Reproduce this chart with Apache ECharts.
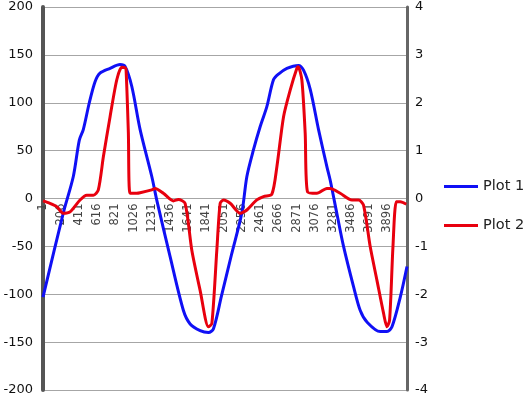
<!DOCTYPE html>
<html><head><meta charset="utf-8">
<script src="https://cdn.jsdelivr.net/npm/echarts@6/dist/echarts.min.js"></script>
<style>html,body{margin:0;padding:0;background:#fff}#c{width:528px;height:400px}</style>
</head><body><div id="c"></div>
<script>
const xTickLabels = [1,206,411,616,821,1026,1231,1436,1641,1841,2051,2256,2461,2666,2871,3076,3281,3486,3691,3896];
const leftTicks = [-200,-150,-100,-50,0,50,100,150,200];
const rightTicks = [-4,-3,-2,-1,0,1,2,3,4];

const plot1X = [1,231,344,412,457,525,590,646,760,873,930,1006,1100,1232,1289,1440,1590,1666,1779,1873,1930,2020,2133,2251,2308,2383,2458,2534,2609,2666,2761,2892,2949,3025,3119,3214,3251,3327,3402,3515,3591,3667,3817,3893,3950,4044,4120];
const plot1Y = [-103,-15,23,61,72,100,122,131,136,140,138,117,72,23,-2,-61,-117,-131,-138,-140,-136,-102,-59,-15,23,51,75,96,124,130,136,139,134,114,72,33,19,-16,-50,-92,-117,-129,-139,-139,-134,-103,-71];

const plot2X = [1,80,156,231,307,420,496,571,627,684,760,836,892,930,941,967,986,1062,1100,1232,1269,1363,1477,1533,1609,1685,1779,1873,1912,1968,2006,2043,2119,2232,2251,2308,2421,2496,2591,2648,2723,2799,2874,2889,2930,2968,2994,3101,3214,3251,3364,3497,3572,3628,3704,3780,3855,3893,3923,3961,3999,4044,4112];
const plot2Y = [-0.05,-0.1,-0.17,-0.31,-0.28,-0.03,0.07,0.07,0.18,0.87,1.71,2.48,2.74,2.73,2.69,1.37,0.11,0.11,0.12,0.18,0.21,0.11,-0.05,-0.02,-0.1,-1.08,-1.92,-2.68,-2.61,-1.08,-0.1,-0.03,-0.1,-0.31,-0.3,-0.24,-0.03,0.04,0.09,0.67,1.71,2.27,2.72,2.75,2.48,1.36,0.14,0.11,0.21,0.21,0.11,-0.03,-0.03,-0.14,-1.01,-1.71,-2.4,-2.68,-2.54,-1.01,-0.07,-0.07,-0.12];

const d1 = plot1X.map((x,i)=>[x,plot1Y[i]]);
const d2 = plot2X.map((x,i)=>[x,plot2Y[i]]);

const chart = echarts.init(document.getElementById('c'), null, {renderer:'canvas'});
const font = 'DejaVu Sans';
chart.setOption({
  animation:false,
  backgroundColor:'#fff',
  grid:{left:43,right:121,top:7,bottom:10,containLabel:false,outerBoundsMode:'none'},
  legend:{
    orient:'vertical', left:444, top:179, itemGap:24, padding:0,
    icon:'rect', itemWidth:34, itemHeight:3,
    textStyle:{fontFamily:font,fontSize:14.5,color:'#222'},
    data:['Plot 1','Plot 2']
  },
  xAxis:{
    type:'value', min:1, max:4120, offset:-191.5,
    axisLine:{show:false, onZero:false},
    axisTick:{show:false},
    splitLine:{show:false},
    axisLabel:{
      customValues:xTickLabels,
      formatter:(v)=>String(v),
      rotate:90, margin:5,
      fontFamily:font, fontSize:11.5, color:'#444',
      showMinLabel:true, showMaxLabel:true
    }
  },
  yAxis:[
    {type:'value', min:-200, max:200, interval:50, position:'left',
     axisLine:{show:true, onZero:false, lineStyle:{color:'#555',width:4}},
     axisTick:{show:false},
     splitLine:{show:true, lineStyle:{color:'#a6a6a6',width:1}},
     axisLabel:{fontFamily:font,fontSize:13,color:'#111',margin:10}},
    {type:'value', min:-4, max:4, interval:1, position:'right',
     axisLine:{show:true, onZero:false, lineStyle:{color:'#666',width:3}},
     axisTick:{show:false},
     splitLine:{show:false},
     axisLabel:{fontFamily:font,fontSize:13,color:'#111',margin:8}}
  ],
  series:[
    {name:'Plot 1', type:'line', yAxisIndex:0, data:d1, smooth:0.3, showSymbol:false,
     lineStyle:{color:'#1010f5',width:3}, itemStyle:{color:'#1010f5'}},
    {name:'Plot 2', type:'line', yAxisIndex:1, data:d2, smooth:0.25, showSymbol:false,
     lineStyle:{color:'#e8000e',width:3}, itemStyle:{color:'#e8000e'}}
  ]
});
</script></body></html>
